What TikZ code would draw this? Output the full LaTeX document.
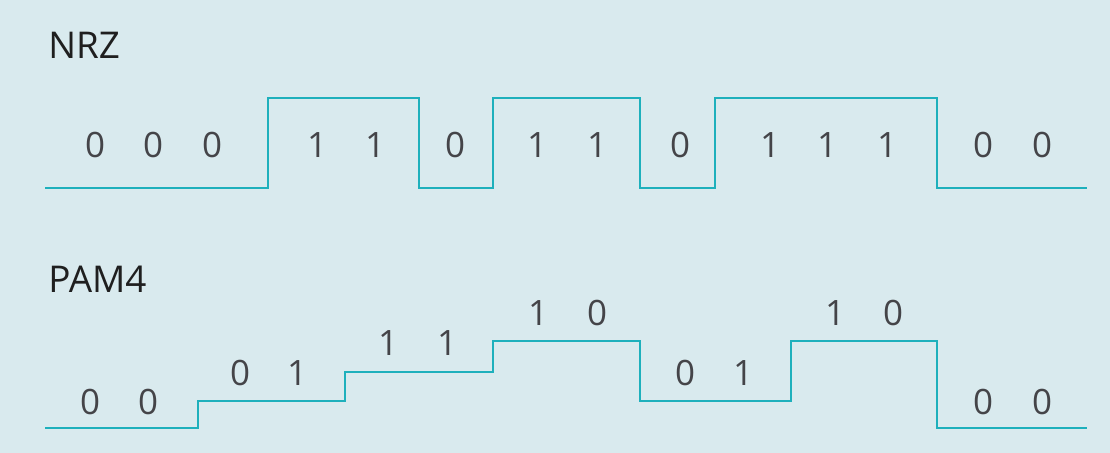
\documentclass[tikz,border=0pt]{standalone}
\usepackage{fontspec}
\setmainfont{Open Sans}
\definecolor{bgBlue}{RGB}{217, 234, 238}
\definecolor{waveTeal}{RGB}{30, 176, 188}
\definecolor{bitGray}{RGB}{68, 68, 72}

\begin{document}
\begin{tikzpicture}[x=0.02cm, y=-0.02cm,
    wave/.style={waveTeal, line width=1.7pt},
    bit/.style={bitGray, inner sep=0pt, font=\fontsize{19.9}{20}\selectfont},
    title/.style={black!88, inner sep=0pt, anchor=west, font=\fontsize{21}{22}\selectfont}]
      \fill[bgBlue] (0,0) rectangle (1110,453);
      \useasboundingbox (0,0) rectangle (1110,453);

      % NRZ: two levels
      \node[title] (nrz) at (48,45) {NRZ};
      \draw[wave] (45,188) -- (268,188) -- (268,98) -- (419,98) -- (419,188)
        -- (493,188) -- (493,98) -- (640,98) -- (640,188) -- (715,188)
        -- (715,98) -- (937,98) -- (937,188) -- (1087,188);
      \foreach \x/\b [count=\i] in {95/0, 153/0, 212/0, 317/1, 375/1, 455/0, 537/1,
          597/1, 680/0, 770/1, 827/1, 887/1, 983/0, 1042/0}
        \node[bit] (n\i) at (\x,145) {\b};

      % PAM4: four levels, one symbol = two bits
      \node[title] (pam) at (48,279) {PAM4};
      \draw[wave] (45,428) -- (198,428) -- (198,401) -- (345,401) -- (345,372)
        -- (493,372) -- (493,341) -- (640,341) -- (640,401) -- (791,401)
        -- (791,341) -- (937,341) -- (937,428) -- (1087,428);
      \foreach \x/\y/\b [count=\i] in {90/402/0, 148/402/0, 240/373/0, 297/373/1,
          388/343/1, 447/343/1, 538/313/1, 597/313/0, 685/373/0, 743/373/1,
          835/313/1, 893/313/0, 983/402/0, 1042/402/0}
        \node[bit] (p\i) at (\x,\y) {\b};
    \end{tikzpicture}
\end{document}
